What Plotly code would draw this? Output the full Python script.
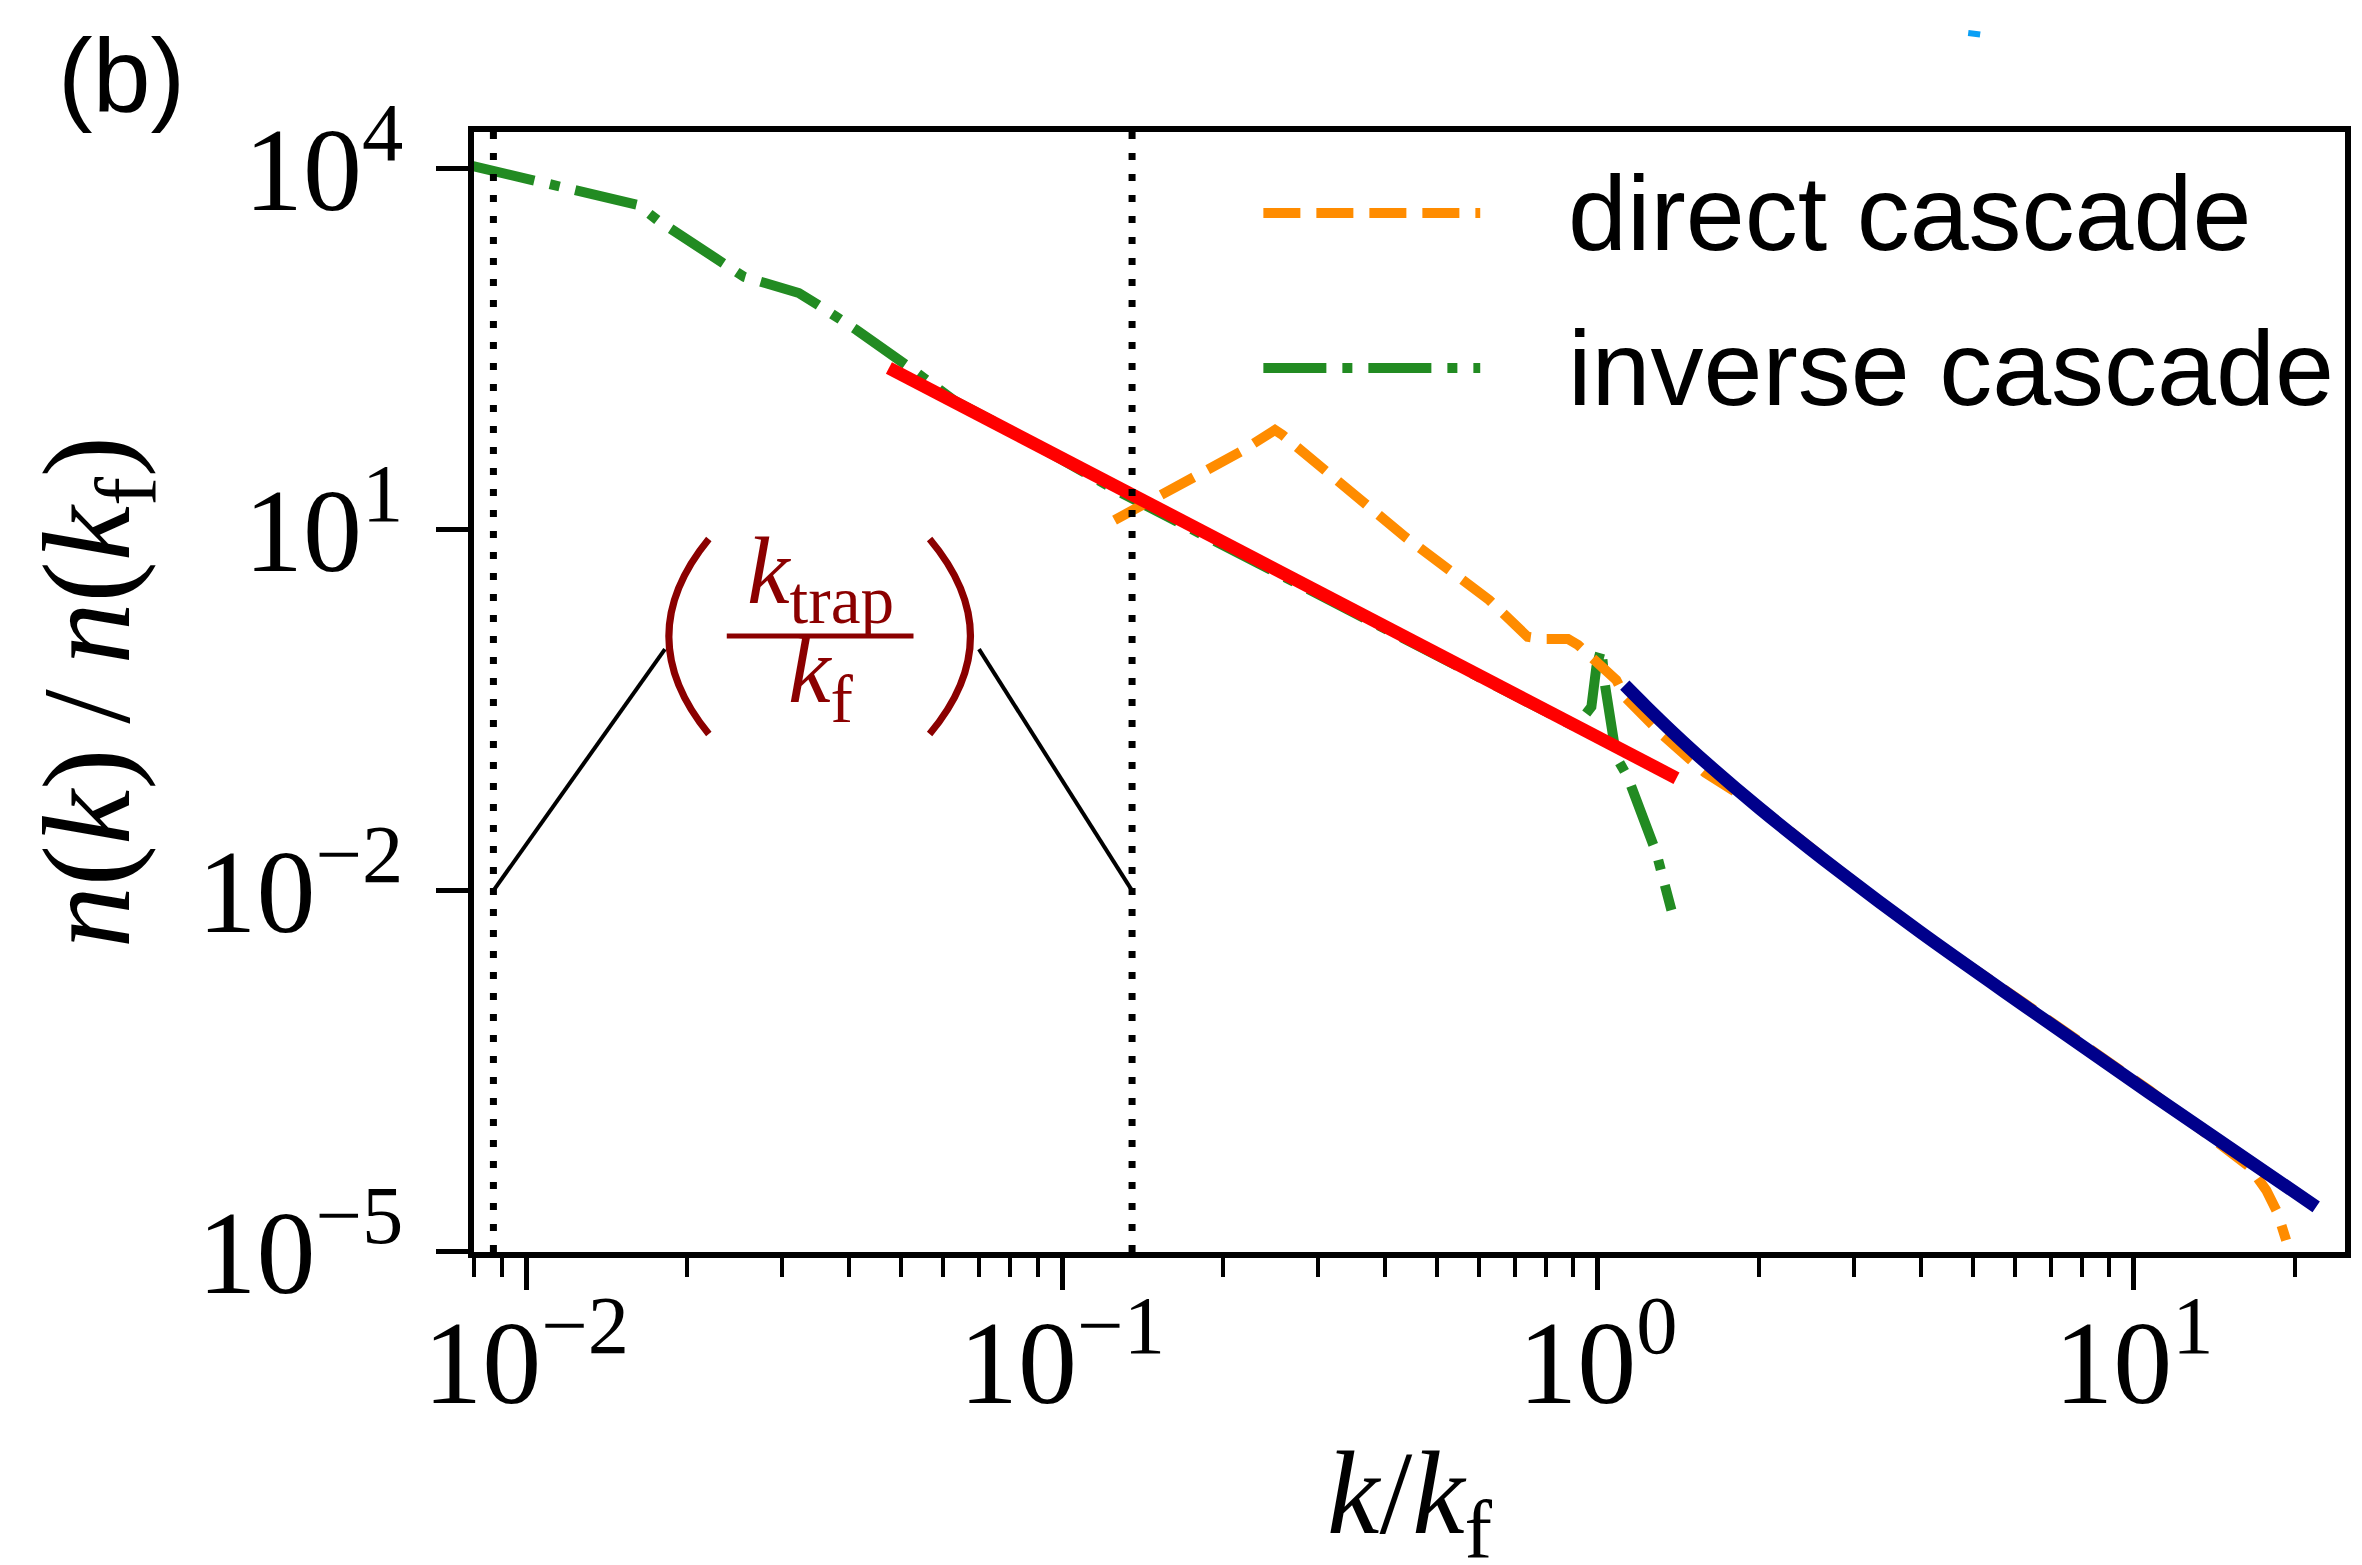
import plotly.graph_objects as go

# ---------------- data ----------------
inverse_k = [0.00796, 0.01048, 0.01618, 0.01758, 0.01879, 0.02333, 0.02553, 0.02793,
             0.03228, 0.03508, 0.03837, 0.04140, 0.05117, 0.05546, 0.0631, 0.0746,
             0.1000, 0.1259, 0.1585, 0.1995, 0.2512, 0.3162, 0.3981, 0.5012, 0.6310,
             0.7943, 0.8913, 0.9311, 0.9720, 0.9931, 1.0146, 1.0292, 1.0592, 1.0821,
             1.1360, 1.2309, 1.2853, 1.3709]
inverse_n = [1.052e4, 7745, 4989, 3741, 3090, 1581, 1259, 1122,
             927, 736, 585, 456, 234, 182, 117.5, 79.4,
             37.2, 21.4, 12.6, 7.41, 4.37, 2.57, 1.51, 0.891, 0.525,
             0.302, 0.240, 0.263, 0.337, 0.724, 1.03, 0.531, 0.204, 0.129,
             0.0883, 0.0318, 0.0205, 0.00689]

direct_k = [0.1253, 0.1382, 0.1768, 0.2153, 0.2496, 0.2580, 0.3093, 0.4365, 0.6268,
            0.7390, 0.7889, 0.8790, 0.9183, 0.9658, 1.082, 1.122, 1.231, 1.320, 1.585,
            1.995, 2.818, 3.981, 6.310, 10.69, 16.44, 17.66, 18.54, 19.23]
direct_n = [12.02, 15.03, 27.54, 44.46, 67.3, 61.1, 31.3, 8.73, 2.60,
            1.288, 1.236, 1.236, 1.099, 0.8778, 0.5623, 0.4083, 0.2612, 0.1963, 0.0955,
            0.0501, 0.01479, 4.57e-3, 1.122e-3, 2.188e-4, 5.06e-5, 3.236e-5, 2.089e-5, 1.245e-5]

fit_low_k = [0.04753, 1.401]
fit_low_n = [220.3, 0.0861]

fit_high_k = [1.122, 1.230, 1.380, 1.585, 1.995, 2.818, 3.981, 6.310, 10.69, 21.88]
fit_high_n = [0.5105, 0.3388, 0.2065, 0.1175, 0.0490, 0.01445, 4.57e-3, 1.072e-3,
              2.089e-4, 2.355e-5]

k_left = 0.00869          # left dotted marker
k_trap = 0.1351           # k_trap / k_f dotted marker

bracket_left_k = [k_left, 0.01816]
bracket_left_n = [0.01, 1.017]
bracket_right_k = [0.06998, k_trap]
bracket_right_n = [1.017, 0.01]

x_range_log = [-2.0972, 1.3938]
y_range_log = [-5.003, 4.305]

x_tick_vals = [0.01, 0.1, 1, 10]
x_tick_text = ["10<sup>−2</sup>", "10<sup>−1</sup>", "10<sup>0</sup>", "10<sup>1</sup>"]
x_minor_vals = [m * 10.0 ** d for d in (-3, -2, -1, 0, 1) for m in range(2, 10)]
y_tick_vals = [1e-5, 1e-2, 1e1, 1e4]
y_tick_text = ["10<sup>−5</sup>", "10<sup>−2</sup>", "10<sup>1</sup>", "10<sup>4</sup>"]

x_title = "<i>k</i>/<i>k</i><sub>f</sub>"
legend_labels = ["direct cascade", "inverse cascade"]

# ---------------- styles ----------------
ORANGE = "#FF8C00"
GREEN = "#228B22"
RED = "#FF0000"
NAVY = "#00008B"
DARKRED = "#8B0000"
DASH_ORANGE = "37px,16px"
DASH_GREEN = "63px,16px,10px,16px"
DASH_DOT = "7px,14px"
SERIF = "Liberation Serif, Times New Roman, serif"
SANS = "Liberation Sans, Arial, sans-serif"
THIN = "\u2009"

fig = go.Figure()

fig.add_trace(go.Scatter(x=inverse_k, y=inverse_n, mode="lines", name=legend_labels[1],
                         line=dict(color=GREEN, width=10, dash=DASH_GREEN)))
fig.add_trace(go.Scatter(x=direct_k, y=direct_n, mode="lines", name=legend_labels[0],
                         line=dict(color=ORANGE, width=10, dash=DASH_ORANGE)))
fig.add_trace(go.Scatter(x=fit_low_k, y=fit_low_n, mode="lines",
                         line=dict(color=RED, width=13)))
fig.add_trace(go.Scatter(x=fit_high_k, y=fit_high_n, mode="lines", line_shape="spline",
                         line=dict(color=NAVY, width=13)))

ymin, ymax = 10 ** y_range_log[0], 10 ** y_range_log[1]
for kv in (k_left, k_trap):
    fig.add_trace(go.Scatter(x=[kv, kv], y=[ymin, ymax], mode="lines",
                             line=dict(color="black", width=7, dash=DASH_DOT)))

fig.add_trace(go.Scatter(x=bracket_left_k, y=bracket_left_n, mode="lines",
                         line=dict(color="black", width=4)))
fig.add_trace(go.Scatter(x=bracket_right_k, y=bracket_right_n, mode="lines",
                         line=dict(color="black", width=4)))

# ---------------- annotations: fraction (k_trap / k_f) ----------------
shapes = []
annotations = []
# parentheses
shapes.append(dict(type="path", xref="paper", yref="paper",
                   path="M 0.1255,0.6366 Q 0.0828,0.5496 0.1255,0.4625",
                   line=dict(color=DARKRED, width=7)))
shapes.append(dict(type="path", xref="paper", yref="paper",
                   path="M 0.2435,0.6366 Q 0.2872,0.5496 0.2435,0.4625",
                   line=dict(color=DARKRED, width=7)))
# fraction bar
shapes.append(dict(type="line", xref="paper", yref="paper",
                   x0=0.1351, x1=0.2349, y0=0.55, y1=0.55,
                   line=dict(color=DARKRED, width=5)))
annotations.append(dict(xref="paper", yref="paper", x=0.1853, y=0.546,
                        xanchor="center", yanchor="bottom", showarrow=False,
                        text="<i>k</i><sub>trap</sub>",
                        font=dict(family=SERIF, size=96, color=DARKRED)))
annotations.append(dict(xref="paper", yref="paper", x=0.1853, y=0.570,
                        xanchor="center", yanchor="top", showarrow=False,
                        text="<i>k</i><sub>f</sub>",
                        font=dict(family=SERIF, size=96, color=DARKRED)))

# ---------------- manual legend ----------------
leg_rows = [(0.9277, ORANGE, DASH_ORANGE, legend_labels[0]),
            (0.7892, GREEN, DASH_GREEN, legend_labels[1])]
for yy, col, dsh, lab in leg_rows:
    shapes.append(dict(type="line", xref="paper", yref="paper",
                       x0=0.4219, x1=0.5378, y0=yy, y1=yy,
                       line=dict(color=col, width=10, dash=dsh)))
    annotations.append(dict(xref="paper", yref="paper", x=0.5837, y=yy,
                            xanchor="left", yanchor="middle", showarrow=False,
                            text=lab, font=dict(family=SANS, size=106, color="black")))

# x-axis title (placed below the margin-constrained title area)
annotations.append(dict(xref="paper", yref="paper", x=0.5, y=-0.223,
                        xanchor="center", yanchor="middle", showarrow=False,
                        text=x_title, font=dict(family=SERIF, size=118, color="black")))

# panel label
annotations.append(dict(xref="paper", yref="paper", x=-0.2235, y=1.0506,
                        xanchor="left", yanchor="middle", showarrow=False,
                        text="(b)", font=dict(family=SANS, size=104, color="black")))
# small cyan mark at top
shapes.append(dict(type="line", xref="paper", yref="paper",
                   x0=0.7986, x1=0.8050, y0=1.0884, y1=1.0870,
                   line=dict(color="#0A9FF5", width=6)))

fig.update_layout(
    width=2362, height=1565,
    margin=dict(l=474, r=17, t=132, b=313, autoexpand=False),
    paper_bgcolor="white", plot_bgcolor="white",
    showlegend=False,
    shapes=shapes, annotations=annotations,
)

fig.update_xaxes(
    type="log", range=x_range_log, automargin=False,
    tickmode="array", tickvals=x_tick_vals, ticktext=x_tick_text,
    tickfont=dict(family=SERIF, size=118, color="black"),
    ticks="outside", ticklen=32, tickwidth=5, tickcolor="black",
    ticklabelstandoff=-29,
    minor=dict(tickmode="array", tickvals=x_minor_vals, ticks="outside",
               ticklen=19, tickwidth=4, tickcolor="black", showgrid=False),
    showline=True, linewidth=6, linecolor="black", mirror=True,
    showgrid=False, zeroline=False,
)
fig.update_yaxes(
    type="log", range=y_range_log, automargin=False,
    tickmode="array", tickvals=y_tick_vals, ticktext=y_tick_text,
    tickfont=dict(family=SERIF, size=118, color="black"),
    ticks="outside", ticklen=32, tickwidth=5, tickcolor="black",
    ticklabelstandoff=9,
    showline=True, linewidth=6, linecolor="black", mirror=True,
    showgrid=False, zeroline=False,
    title=dict(text="<i>n</i>(<i>k</i>)" + THIN + "/" + THIN + "<i>n</i>(<i>k</i><sub>f</sub>)",
               font=dict(family=SERIF, size=124, color="black"), standoff=28),
)

fig.write_html("out.html", config={"displayModeBar": False},
               post_script="document.body.style.margin='0';document.body.style.overflow='hidden';")
